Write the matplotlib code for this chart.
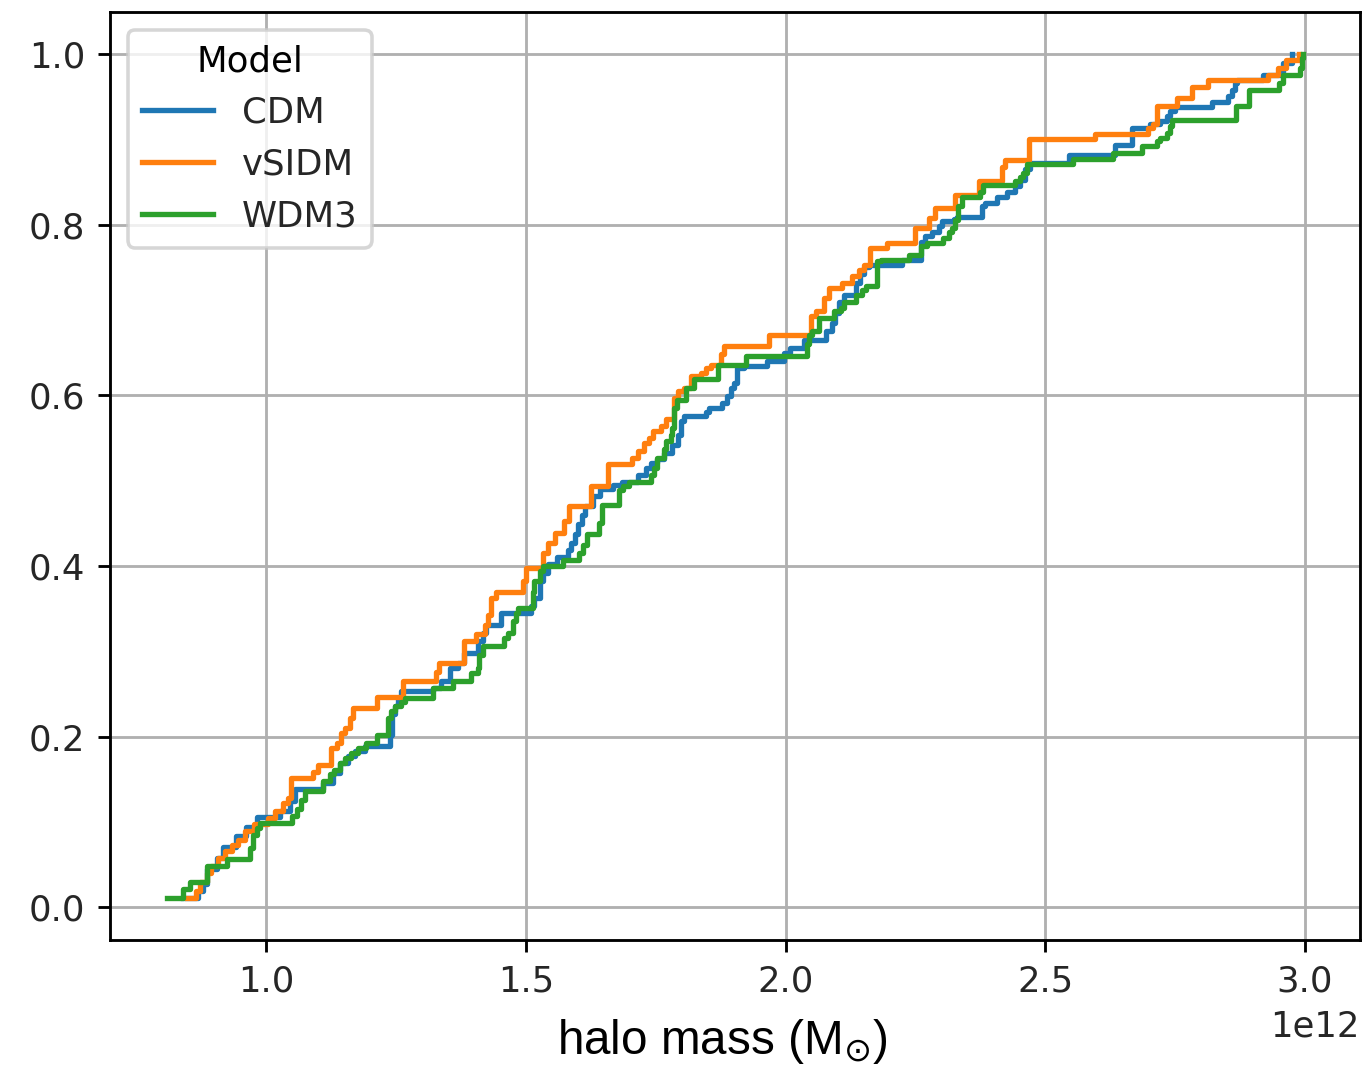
import numpy as np
import matplotlib
matplotlib.use("Agg")
import matplotlib.pyplot as plt

models = ["CDM", "vSIDM", "WDM3"]
colors = ["#1f77b4", "#ff7f0e", "#2ca02c"]

# Empirical CDF step corners: (halo mass in 1e12 Msun, cumulative fraction reached there)
cdm = [(0.840, 0.011), (0.868, 0.019), (0.878, 0.027), (0.885, 0.045), (0.905, 0.058),
       (0.917, 0.070), (0.942, 0.083), (0.960, 0.094), (0.981, 0.106), (1.026, 0.113),
       (1.045, 0.124), (1.054, 0.138), (1.108, 0.146), (1.128, 0.157), (1.141, 0.169),
       (1.157, 0.177), (1.170, 0.183), (1.189, 0.189), (1.238, 0.202), (1.242, 0.226),
       (1.247, 0.236), (1.253, 0.244), (1.260, 0.253), (1.321, 0.257), (1.337, 0.265),
       (1.353, 0.281), (1.369, 0.286), (1.381, 0.298), (1.407, 0.312), (1.417, 0.322),
       (1.423, 0.331), (1.452, 0.345), (1.510, 0.353), (1.516, 0.363), (1.526, 0.382),
       (1.532, 0.392), (1.542, 0.402), (1.560, 0.411), (1.580, 0.419), (1.587, 0.427),
       (1.595, 0.437), (1.601, 0.449), (1.607, 0.460), (1.614, 0.470), (1.628, 0.482),
       (1.643, 0.490), (1.667, 0.495), (1.684, 0.499), (1.715, 0.507), (1.731, 0.515),
       (1.740, 0.521), (1.753, 0.525), (1.766, 0.533), (1.782, 0.542), (1.792, 0.554),
       (1.798, 0.570), (1.805, 0.576), (1.846, 0.581), (1.853, 0.585), (1.878, 0.591),
       (1.888, 0.599), (1.894, 0.609), (1.901, 0.615), (1.907, 0.632), (1.920, 0.634),
       (1.965, 0.640), (1.997, 0.650), (2.008, 0.656), (2.036, 0.665), (2.078, 0.675),
       (2.090, 0.685), (2.096, 0.697), (2.103, 0.710), (2.112, 0.718), (2.135, 0.732),
       (2.144, 0.742), (2.151, 0.751), (2.160, 0.753), (2.224, 0.759), (2.260, 0.780),
       (2.269, 0.787), (2.282, 0.792), (2.295, 0.798), (2.301, 0.804), (2.324, 0.807),
       (2.330, 0.809), (2.378, 0.822), (2.385, 0.826), (2.407, 0.832), (2.426, 0.839),
       (2.442, 0.845), (2.452, 0.853), (2.462, 0.865), (2.471, 0.872), (2.545, 0.882),
       (2.635, 0.894), (2.667, 0.914), (2.702, 0.918), (2.721, 0.922), (2.734, 0.928),
       (2.740, 0.933), (2.750, 0.938), (2.821, 0.944), (2.853, 0.951), (2.859, 0.958),
       (2.865, 0.966), (2.870, 0.970), (2.920, 0.976), (2.958, 0.990), (2.976, 1.000)]

vsidm = [(0.846, 0.011), (0.864, 0.019), (0.872, 0.030), (0.885, 0.040), (0.894, 0.048),
         (0.907, 0.058), (0.920, 0.066), (0.933, 0.073), (0.946, 0.079), (0.958, 0.089),
         (0.975, 0.097), (1.003, 0.105), (1.016, 0.113), (1.032, 0.122), (1.042, 0.128),
         (1.048, 0.152), (1.090, 0.159), (1.099, 0.167), (1.125, 0.187), (1.135, 0.193),
         (1.144, 0.204), (1.151, 0.210), (1.160, 0.222), (1.167, 0.234), (1.212, 0.247),
         (1.263, 0.265), (1.327, 0.276), (1.333, 0.286), (1.381, 0.312), (1.404, 0.320),
         (1.420, 0.331), (1.426, 0.343), (1.433, 0.363), (1.442, 0.370), (1.494, 0.382),
         (1.500, 0.398), (1.532, 0.415), (1.542, 0.427), (1.555, 0.439), (1.574, 0.453),
         (1.583, 0.470), (1.625, 0.494), (1.657, 0.519), (1.705, 0.527), (1.715, 0.535),
         (1.728, 0.544), (1.737, 0.550), (1.744, 0.558), (1.760, 0.564), (1.769, 0.572),
         (1.785, 0.597), (1.792, 0.605), (1.805, 0.609), (1.817, 0.623), (1.837, 0.626),
         (1.846, 0.632), (1.856, 0.636), (1.875, 0.648), (1.881, 0.658), (1.968, 0.671),
         (2.048, 0.693), (2.058, 0.699), (2.074, 0.714), (2.083, 0.726), (2.109, 0.732),
         (2.128, 0.740), (2.141, 0.747), (2.151, 0.753), (2.162, 0.773), (2.196, 0.779),
         (2.250, 0.796), (2.276, 0.808), (2.288, 0.820), (2.327, 0.835), (2.372, 0.851),
         (2.417, 0.868), (2.423, 0.876), (2.468, 0.900), (2.596, 0.906), (2.699, 0.914),
         (2.708, 0.918), (2.715, 0.939), (2.753, 0.949), (2.782, 0.962), (2.814, 0.970),
         (2.929, 0.976), (2.948, 0.984), (2.963, 0.993), (2.988, 1.000)]

wdm3 = [(0.808, 0.011), (0.840, 0.021), (0.853, 0.030), (0.885, 0.048), (0.923, 0.056),
        (0.969, 0.069), (0.974, 0.085), (0.981, 0.093), (0.987, 0.099), (1.050, 0.107),
        (1.058, 0.115), (1.067, 0.126), (1.074, 0.136), (1.109, 0.148), (1.122, 0.156),
        (1.131, 0.161), (1.141, 0.169), (1.151, 0.175), (1.163, 0.181), (1.176, 0.187),
        (1.192, 0.193), (1.212, 0.202), (1.234, 0.222), (1.240, 0.230), (1.248, 0.236),
        (1.260, 0.241), (1.266, 0.245), (1.321, 0.257), (1.359, 0.265), (1.394, 0.275),
        (1.407, 0.281), (1.410, 0.296), (1.417, 0.306), (1.458, 0.316), (1.465, 0.322),
        (1.474, 0.335), (1.481, 0.345), (1.484, 0.351), (1.513, 0.370), (1.516, 0.382),
        (1.526, 0.394), (1.532, 0.400), (1.572, 0.407), (1.602, 0.415), (1.610, 0.425),
        (1.617, 0.437), (1.640, 0.450), (1.647, 0.471), (1.679, 0.489), (1.687, 0.494),
        (1.698, 0.499), (1.740, 0.507), (1.747, 0.515), (1.753, 0.527), (1.766, 0.537),
        (1.769, 0.546), (1.779, 0.554), (1.782, 0.562), (1.785, 0.585), (1.790, 0.595),
        (1.808, 0.609), (1.824, 0.619), (1.869, 0.636), (1.923, 0.646), (2.042, 0.660),
        (2.046, 0.671), (2.050, 0.675), (2.064, 0.691), (2.093, 0.699), (2.106, 0.703),
        (2.112, 0.710), (2.135, 0.718), (2.147, 0.724), (2.154, 0.728), (2.176, 0.757),
        (2.183, 0.759), (2.237, 0.765), (2.260, 0.775), (2.272, 0.779), (2.304, 0.785),
        (2.314, 0.791), (2.321, 0.796), (2.327, 0.806), (2.333, 0.822), (2.340, 0.832),
        (2.375, 0.839), (2.381, 0.847), (2.442, 0.851), (2.452, 0.856), (2.458, 0.861),
        (2.465, 0.871), (2.554, 0.877), (2.631, 0.884), (2.686, 0.892), (2.715, 0.898),
        (2.721, 0.902), (2.734, 0.908), (2.740, 0.916), (2.745, 0.923), (2.867, 0.939),
        (2.893, 0.958), (2.951, 0.966), (2.958, 0.976), (2.990, 0.984), (2.994, 0.996),
        (2.997, 1.000)]

series = [cdm, vsidm, wdm3]

DPI = 256
fig = plt.figure(figsize=(1364 / DPI, 1067 / DPI), dpi=DPI)
ax = fig.add_axes([110 / 1364, 1 - 940 / 1067, 1250 / 1364, 928 / 1067])

for name, pts, col in zip(models, series, colors):
    mass = np.array([p[0] for p in pts]) * 1e12
    frac = np.array([p[1] for p in pts])
    ax.step(mass, frac, where="post", color=col, lw=1.5, label=name)

ax.grid(True, color="#b0b0b0", lw=0.8)
ax.set_axisbelow(True)
ax.set_yticks([0.0, 0.2, 0.4, 0.6, 0.8, 1.0])
ax.tick_params(labelcolor="#262626")
ax.legend(title="Model", loc="upper left", labelcolor="#262626")

ax.set_xlabel(r"halo mass (M$_{\odot}$)", fontfamily="Liberation Sans",
              fontsize=13.4, labelpad=5.2)
ax.xaxis.label.set_x(0.49)

fig.savefig("out.png", dpi=DPI)
